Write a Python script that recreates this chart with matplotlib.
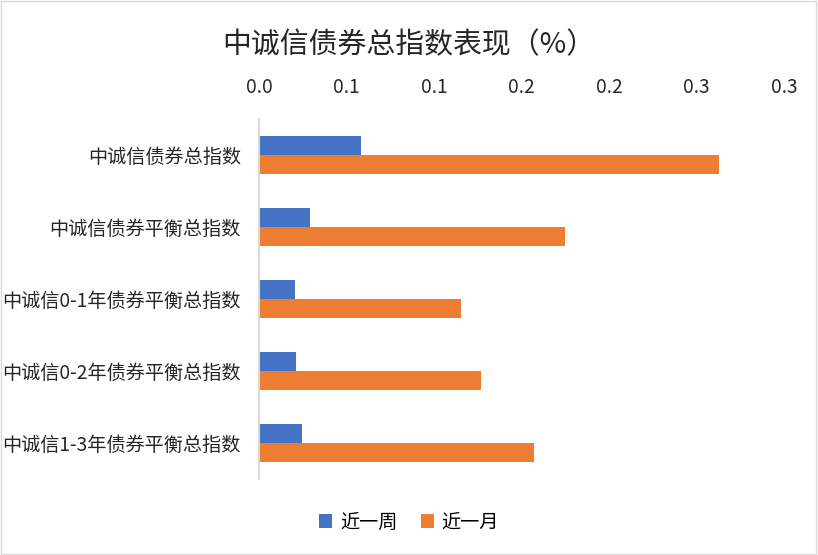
import matplotlib.pyplot as plt
from matplotlib.patches import Rectangle
import numpy as np

plt.rcParams['font.family'] = ['Noto Sans CJK SC', 'DejaVu Sans']

# 数据（从图中读取，单位 %）
categories = ['中诚信债券总指数', '中诚信债券平衡总指数', '中诚信0-1年债券平衡总指数',
              '中诚信0-2年债券平衡总指数', '中诚信1-3年债券平衡总指数']
week_vals = [0.0582, 0.0294, 0.0203, 0.0214, 0.0243]
month_vals = [0.2626, 0.1746, 0.1152, 0.1266, 0.1574]
x_ticks = [0.0, 0.05, 0.10, 0.15, 0.20, 0.25, 0.30]
x_tick_labels = ['0.0', '0.1', '0.1', '0.2', '0.2', '0.3', '0.3']

blue = '#4472C4'
orange = '#ED7D31'

fig = plt.figure(figsize=(8.18, 5.55), dpi=100)
ax = fig.add_axes([0.3166, 0.1369, 0.6418, 0.6487])

y = np.arange(len(categories))
h = 0.264
ax.barh(y - h / 2, week_vals, height=h, color=blue, label='近一周')
ax.barh(y + h / 2, month_vals, height=h, color=orange, label='近一月')

ax.set_ylim(len(categories) - 0.5, -0.5)
ax.set_xlim(0, 0.3)
ax.set_yticks(y)
ax.set_yticklabels(categories, fontsize=13.8, color='#262626')
ax.set_xticks(x_ticks)
ax.set_xticklabels(x_tick_labels, fontsize=13.8, color='#262626')
ax.xaxis.tick_top()
ax.tick_params(axis='x', length=0, pad=15)
ax.tick_params(axis='y', length=0, pad=13)

for s in ['top', 'right', 'bottom']:
    ax.spines[s].set_visible(False)
ax.spines['left'].set_color('#D9D9D9')
ax.spines['left'].set_linewidth(1.5)

fig.text(0.5, 0.918, '中诚信债券总指数表现（%）', ha='center', va='center',
         fontsize=20.8, color='#262626')

fig.legend(loc='center', bbox_to_anchor=(0.5, 0.059), ncol=2, frameon=False,
           fontsize=13.8, handlelength=0.7, handleheight=0.7, handletextpad=0.4,
           columnspacing=1.2)

fig.patches.append(Rectangle((0.001, 0.002), 0.997, 0.996, transform=fig.transFigure,
                             fill=False, edgecolor='#D9D9D9', linewidth=1))

plt.savefig('out.png', dpi=100)
